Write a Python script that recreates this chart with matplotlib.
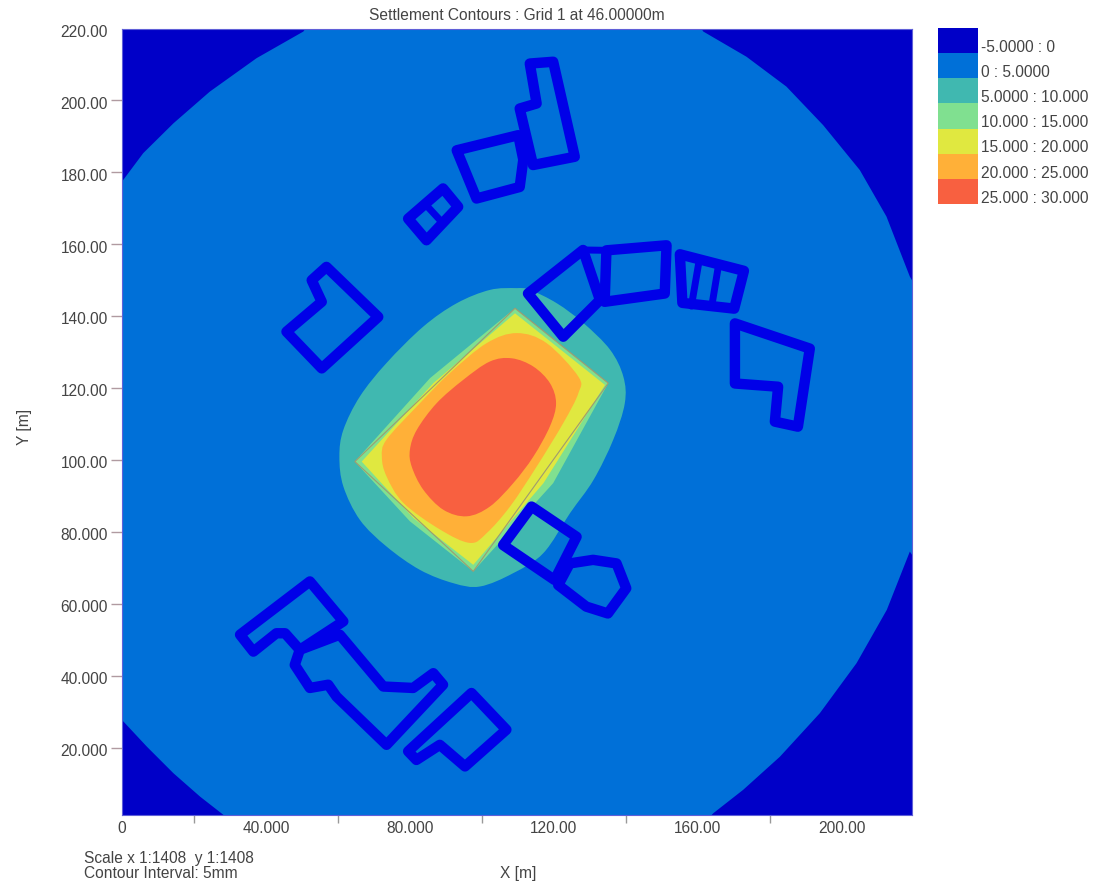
import matplotlib
matplotlib.use('Agg')
import matplotlib.pyplot as plt
from matplotlib.patches import PathPatch
from matplotlib.path import Path
import numpy as np

plt.rcParams['font.family'] = ['Liberation Sans', 'DejaVu Sans']

W, H = 1097, 888
X_MIN, X_MAX = 0, 219.5
Y_MIN, Y_MAX = 1.9, 220.3

# model boundary, runs past the frame at the edges; outside it stays dark blue
boundary = [(-1, 177), (0.37, 178.4), (5.9, 185.8), (14.3, 194.1), (24.4, 202.9), (37.4, 212.2),
            (50.4, 219.6), (52, 222), (160, 222), (161.5, 219.6), (173.5, 212.6), (184.6, 204.3),
            (194.8, 193.6), (205.0, 181.1), (212.4, 168.2), (218.9, 151.5), (221, 148),
            (221, 72), (218.9, 75.1), (212.5, 58.9), (204.1, 44.1), (193.9, 30.2), (182.8, 18.1),
            (172.6, 8.9), (164.3, 2.4), (162, 0), (30, 0), (28.1, 2.0), (21.7, 7.0), (14.3, 13.5),
            (6.9, 20.9), (0.37, 27.9), (-1, 29)]

# settlement bands
band_5_10 = [(109.6, 148.3), (102.2, 147.8), (93.0, 144.1), (83.7, 137.6), (73.5, 127.5),
             (66.1, 118.2), (61.5, 108.9), (60.4, 101.5), (61.5, 93.2), (66.1, 83.9),
             (73.5, 76.5), (82.8, 70.0), (92.1, 66.3), (99.5, 65.4), (108.7, 69.1),
             (117.1, 74.7), (124.5, 85.8), (131.0, 95.0), (136.5, 106.2), (139.7, 116.3),
             (139.3, 123.7), (135.6, 131.2), (128.2, 138.6), (120.8, 144.1), (113.4, 147.8)]
band_10_15 = [(109.2, 142.7), (135.1, 121.9), (119.8, 94.1), (97.6, 69.6),
              (80.0, 83.5), (64.7, 100.1), (85.6, 123.3)]
band_15_20 = [(109.2, 141.3), (134.2, 121.4), (117.1, 94.1), (97.6, 71.4),
              (81.0, 84.4), (66.6, 100.1), (86.5, 121.9)]
band_20_25 = [(109.7, 135.8), (118.0, 133.0), (126.8, 123.7), (126.8, 119.1), (122.6, 110.8),
              (115.2, 98.7), (107.8, 87.6), (101.3, 80.2), (96.7, 77.5), (88.4, 81.2),
              (78.2, 88.6), (73.5, 96.0), (72.2, 101.5), (73.5, 106.2), (81.9, 115.4),
              (91.1, 124.7), (101.3, 133.0)]
band_25_30 = [(108.3, 128.8), (114.3, 126.5), (118.9, 121.9), (120.6, 116.3), (118.9, 109.9),
              (114.3, 101.5), (108.7, 94.1), (102.2, 87.6), (95.8, 84.9), (89.3, 86.7),
              (83.7, 92.3), (80.5, 98.7), (80.0, 103.4), (81.9, 108.9), (87.4, 116.3),
              (94.8, 122.8), (102.2, 127.9)]

# excavation outline (thin grey)
excavation = [(109.2, 142.7), (135.1, 121.9), (97.6, 69.6), (64.7, 100.1)]

# buildings
buildings = [
    [(56.8, 154.2), (71.2, 140.3), (55.5, 126.0), (45.7, 136.2), (55.5, 144.5), (52.7, 150.5)],
    [(79.5, 167.6), (89.2, 176.0), (93.4, 170.9), (84.6, 161.6)],
    [(93.0, 186.6), (110.1, 190.8), (111.5, 184.0), (110.5, 176.4), (98.5, 173.2)],
    [(113.3, 210.7), (119.8, 211.2), (125.8, 184.8), (114.2, 182.5), (110.5, 198.2), (115.2, 199.6)],
    [(112.8, 146.8), (128.1, 158.9), (132.8, 145.0), (122.6, 134.8)],
    [(134.6, 158.8), (151.3, 160.2), (150.8, 146.8), (134.1, 144.5)],
    [(155.0, 157.7), (172.8, 153.1), (170.1, 142.6), (155.7, 144.2)],
    [(170.3, 138.5), (191.1, 131.5), (187.8, 109.8), (181.4, 111.2), (182.3, 120.9), (170.3, 121.8)],
    [(113.8, 87.6), (126.3, 79.2), (120.2, 67.2), (105.9, 76.9)],
    [(130.9, 72.8), (137.4, 71.8), (140.1, 64.9), (135.0, 57.9), (129.0, 59.8), (121.2, 65.8), (124.4, 71.8)],
    [(52.2, 66.8), (61.5, 55.7), (49.4, 47.8), (45.3, 52.4), (42.9, 52.4), (36.5, 47.3), (32.8, 52.0)],
    [(60.5, 52.0), (72.6, 37.6), (80.9, 37.2), (86.5, 41.3), (89.2, 38.1), (73.5, 21.4),
     (59.6, 34.8), (57.3, 38.1), (52.2, 37.2), (48.0, 43.6), (49.4, 47.8)],
    [(97.1, 35.8), (106.8, 25.6), (95.3, 15.4), (88.3, 21.4), (81.8, 17.2), (79.5, 19.6)],
]
# inner walls, open lines
walls = [
    [(84.1, 171.8), (89.2, 166.3)],
    [(160.3, 155.6), (158.2, 143.3)],
    [(165.6, 153.8), (163.8, 142.9)],
    [(128.1, 158.9), (134.6, 158.8)],
    [(132.8, 145.0), (134.1, 144.5)],
]

legend_labels = ['-5.0000 : 0', '0 : 5.0000', '5.0000 : 10.000', '10.000 : 15.000',
                 '15.000 : 20.000', '20.000 : 25.000', '25.000 : 30.000']
legend_colors = ['#0000c8', '#0070d8', '#40b8b0', '#80e090', '#e0e840', '#ffb038', '#f86040']

x_ticks = [20, 60, 100, 140, 180]
x_labels = [0, 40, 80, 120, 160, 200]
x_label_text = ['0', '40.000', '80.000', '120.00', '160.00', '200.00']
y_labels = [20, 40, 60, 80, 100, 120, 140, 160, 180, 200, 220]
y_label_text = ['20.000', '40.000', '60.000', '80.000', '100.00', '120.00', '140.00',
                '160.00', '180.00', '200.00', '220.00']

TEXT = '#444444'
FS = 11.2
BUILDING = '#0000e8'


def smooth_patch(pts, col):
    """Closed curve through the read points (Catmull-Rom as beziers)."""
    p = np.array(pts, dtype=float)
    n = len(p)
    verts = [p[0]]
    codes = [Path.MOVETO]
    for i in range(n):
        p0, p1, p2, p3 = p[i - 1], p[i], p[(i + 1) % n], p[(i + 2) % n]
        verts += [p1 + (p2 - p0) / 6, p2 - (p3 - p1) / 6, p2]
        codes += [Path.CURVE4] * 3
    return PathPatch(Path(verts, codes), facecolor=col, edgecolor='none', lw=0)


fig = plt.figure(figsize=(W / 100, H / 100), dpi=100)
ax = fig.add_axes([122 / W, (H - 815) / H, 790 / W, 786 / H])
ax.set_xlim(X_MIN, X_MAX)
ax.set_ylim(Y_MIN, Y_MAX)
ax.set_facecolor(legend_colors[0])

ax.fill([p[0] for p in boundary], [p[1] for p in boundary], color=legend_colors[1], lw=0)
ax.add_patch(smooth_patch(band_5_10, legend_colors[2]))
# these two keep the sharp corners of the excavation
ax.fill([p[0] for p in band_10_15], [p[1] for p in band_10_15], color=legend_colors[3], lw=0)
ax.fill([p[0] for p in band_15_20], [p[1] for p in band_15_20], color=legend_colors[4], lw=0)
ax.add_patch(smooth_patch(band_20_25, legend_colors[5]))
ax.add_patch(smooth_patch(band_25_30, legend_colors[6]))

ax.fill([p[0] for p in excavation], [p[1] for p in excavation], fill=False,
        edgecolor='#a09a70', lw=0.8)

for pts in buildings:
    ax.fill([p[0] for p in pts], [p[1] for p in pts], fill=False, edgecolor=BUILDING,
            lw=7.5, joinstyle='round')
for pts in walls:
    ax.plot([p[0] for p in pts], [p[1] for p in pts], color=BUILDING, lw=5,
            solid_capstyle='round')

for s in ax.spines.values():
    s.set_color('#6060d8')
    s.set_linewidth(0.8)
ax.set_xticks(x_ticks)
ax.set_xticklabels([])
ax.tick_params(axis='x', length=6, width=1, color='#999999', direction='out')
# y ticks sit a little above their labels in the original
ax.set_yticks([v + 0.6 for v in y_labels[:-1]])
ax.set_yticklabels([])
ax.tick_params(axis='y', length=8, width=1, color='#b09aa0', direction='out')

for v, t in zip(x_labels, x_label_text):
    ax.annotate(t, (v, Y_MIN), xytext=(0, -13), textcoords='offset pixels', ha='center',
                va='center', fontsize=FS, color=TEXT)
for v, t in zip(y_labels, y_label_text):
    ax.annotate(t, (X_MIN, v), xytext=(-14, -2), textcoords='offset pixels', ha='right',
                va='center', fontsize=FS, color=TEXT)

# legend column
leg = fig.add_axes([938 / W, (H - 204) / H, 40 / W, 176 / H])
leg.barh(range(len(legend_colors)), [1] * len(legend_colors), height=1, color=legend_colors)
leg.set_xlim(0, 1)
leg.set_ylim(len(legend_colors) - 0.5, -0.5)
leg.axis('off')
for i, t in enumerate(legend_labels):
    fig.text(981 / W, 1 - (47 + i * 25.2) / H, t, ha='left', va='center', fontsize=FS, color=TEXT)

fig.text(517 / W, 1 - 16 / H, 'Settlement Contours : Grid 1 at 46.00000m', ha='center',
         va='center', fontsize=FS, color=TEXT)
fig.text(25 / W, 1 - 427 / H, 'Y [m]', rotation=90, ha='center', va='center', fontsize=FS, color=TEXT)
fig.text(518 / W, 1 - 873 / H, 'X [m]', ha='center', va='center', fontsize=FS, color=TEXT)
fig.text(84 / W, 1 - 858 / H, 'Scale x 1:1408  y 1:1408', ha='left', va='center', fontsize=FS, color=TEXT)
fig.text(84 / W, 1 - 873 / H, 'Contour Interval: 5mm', ha='left', va='center', fontsize=FS, color=TEXT)

fig.savefig('out.png', dpi=100)
